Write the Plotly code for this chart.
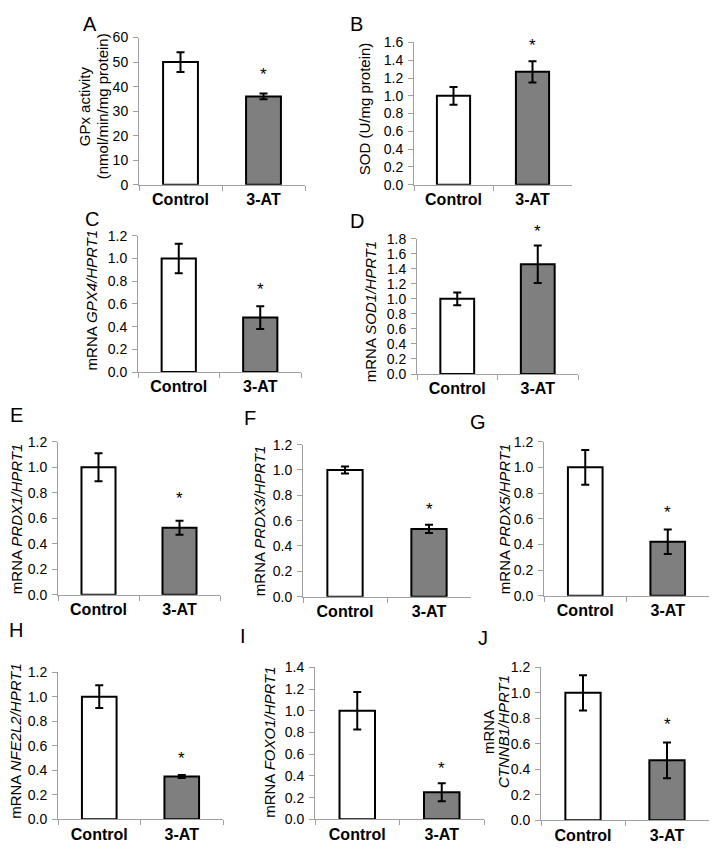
import plotly.graph_objects as go

# The page body has an 8px margin, so the figure is sized to fit the 717x852 window.
PAGE_MARGIN = 8
W, H = 717 - 2 * PAGE_MARGIN, 852 - 2 * PAGE_MARGIN

categories = ["Control", "3-AT"]
panel_letters = ["A", "B", "C", "D", "E", "F", "G", "H", "I", "J"]
control_mean = [50, 1.00, 1.00, 1.00, 1.00, 1.00, 1.00, 1.00, 1.00, 1.00]
control_err = [4, 0.10, 0.13, 0.085, 0.11, 0.028, 0.135, 0.093, 0.173, 0.138]
treated_mean = [36, 1.27, 0.48, 1.46, 0.525, 0.535, 0.42, 0.35, 0.25, 0.47]
treated_err = [1.2, 0.12, 0.10, 0.25, 0.055, 0.032, 0.095, 0.012, 0.083, 0.141]
asterisk_y = [44.8, 1.57, 0.73, 1.89, 0.755, 0.69, 0.65, 0.50, 0.47, 0.754]
y_max = [60, 1.6, 1.2, 1.8, 1.2, 1.2, 1.2, 1.2, 1.4, 1.2]
y_dtick = [10, 0.2, 0.2, 0.2, 0.2, 0.2, 0.2, 0.2, 0.2, 0.2]
y_format = [".0f", ".1f", ".1f", ".1f", ".1f", ".1f", ".1f", ".1f", ".1f", ".1f"]
# y-axis titles, one entry per line
y_title_lines = [
    ["GPx activity", "(nmol/min/mg protein)"],
    ["SOD (U/mg protein)"],
    ["mRNA <i>GPX4/HPRT1</i>"],
    ["mRNA <i>SOD1/HPRT1</i>"],
    ["mRNA <i>PRDX1/HPRT1</i>"],
    ["mRNA <i>PRDX3/HPRT1</i>"],
    ["mRNA <i>PRDX5/HPRT1</i>"],
    ["mRNA <i>NFE2L2/HPRT1</i>"],
    ["mRNA <i>FOXO1/HPRT1</i>"],
    ["mRNA", "<i>CTNNB1/HPRT1</i>"],
]

# plot-area boxes in window pixels: x0, x1, ytop, ybottom
boxes = [
    (139, 305, 30, 180),
    (414, 572, 35, 180),
    (138, 301, 232, 371),
    (417, 578, 235, 373),
    (58, 220, 442, 598),
    (303, 471, 445, 600),
    (544, 711, 442, 599),
    (58, 223, 677, 827),
    (315, 484, 672, 827),
    (541, 716, 672, 828),
]
# x of each title line and y of the title centre (window pixels)
title_line_x = [[84, 102], [364], [91], [370], [16], [259], [504], [16], [270], [488, 503]]
title_y = [100, 103, 298, 310, 521, 522, 521, 747, 749, 738]
letter_pos = [(90, 16), (356, 16), (92, 215), (357, 217), (16, 415),
              (250, 418), (478, 422), (16, 634), (243, 640), (483, 642)]

FONT = "Liberation Sans, Arial, sans-serif"
AXIS_COLOR = "#a0a0a0"


def px_x(v):
    return (v - PAGE_MARGIN) / W


def px_y(v):
    return 1 - (v - PAGE_MARGIN) / H


def clamp(v):
    return min(1.0, max(0.0, v))


fig = go.Figure()
annotations = []
layout_axes = {}

for i in range(10):
    n = i + 1
    xa = "x" if n == 1 else f"x{n}"
    ya = "y" if n == 1 else f"y{n}"
    x0, x1, yt, yb = boxes[i]
    fig.add_trace(go.Bar(
        x=categories,
        y=[control_mean[i], treated_mean[i]],
        error_y=dict(type="data", array=[control_err[i], treated_err[i]],
                     color="black", thickness=2, width=4),
        marker=dict(color=["white", "#7f7f7f"], line=dict(color="black", width=2)),
        width=0.42,
        xaxis=xa, yaxis=ya, showlegend=False,
    ))
    layout_axes["xaxis" if n == 1 else f"xaxis{n}"] = dict(
        domain=[clamp(px_x(x0)), clamp(px_x(x1))], anchor=ya, type="category",
        range=[-0.5, 1.5], showline=True, linecolor=AXIS_COLOR, linewidth=1,
        ticks="outside", tickson="boundaries", ticklen=5, tickcolor=AXIS_COLOR,
        showgrid=False, zeroline=False,
        tickfont=dict(family=FONT, size=16, color="black", weight="bold"),
    )
    layout_axes["yaxis" if n == 1 else f"yaxis{n}"] = dict(
        domain=[clamp(px_y(yb)), clamp(px_y(yt))], anchor=xa,
        range=[0, y_max[i]], dtick=y_dtick[i], tick0=0, tickformat=y_format[i],
        showline=True, linecolor=AXIS_COLOR, linewidth=1,
        ticks="outside", ticklen=5, tickcolor=AXIS_COLOR,
        showgrid=False, zeroline=False, ticklabelstandoff=2,
        tickfont=dict(family=FONT, size=14, color="black"),
    )
    annotations.append(dict(
        x=categories[1], y=asterisk_y[i] / y_max[i], xref=xa, yref=f"{ya} domain",
        text="*", showarrow=False, font=dict(family=FONT, size=17, color="black"),
        xanchor="center", yanchor="middle",
    ))
    for line_text, lx_px in zip(y_title_lines[i], title_line_x[i]):
        annotations.append(dict(
            x=px_x(lx_px), y=px_y(title_y[i]), xref="paper", yref="paper",
            text=line_text, textangle=-90, showarrow=False,
            font=dict(family=FONT, size=15, color="black"),
            xanchor="center", yanchor="middle",
        ))
    lx, ly = letter_pos[i]
    annotations.append(dict(
        x=px_x(lx), y=px_y(ly), xref="paper", yref="paper", text=panel_letters[i],
        showarrow=False, font=dict(family=FONT, size=20, color="black"),
        xanchor="center", yanchor="middle",
    ))

fig.update_layout(
    width=W, height=H, margin=dict(l=0, r=0, t=0, b=0),
    paper_bgcolor="white", plot_bgcolor="white",
    annotations=annotations,
    **layout_axes,
)

fig.write_html("out.html")
